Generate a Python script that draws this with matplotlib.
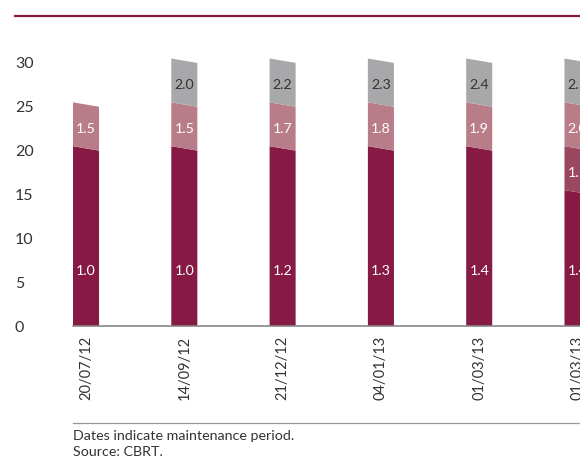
import matplotlib.pyplot as plt
from matplotlib.lines import Line2D

# reserve option tranches per maintenance period
dates = ['20/07/12', '14/09/12', '21/12/12', '04/01/13', '01/03/13', '01/03/13']
seg_base = [20, 20, 20, 20, 20, 15]   # first tranche
seg_mid = [0, 0, 0, 0, 0, 5]          # extra tranche (last period only)
seg_pink = [5, 5, 5, 5, 5, 5]
seg_gray = [0, 5, 5, 5, 5, 5]
lab_base = ['1.0', '1.0', '1.2', '1.3', '1.4', '1.4']
lab_mid = ['', '', '', '', '', '1.5']
lab_pink = ['1.5', '1.5', '1.7', '1.8', '1.9', '2.0']
lab_gray = ['', '2.0', '2.2', '2.3', '2.4', '2.5']

c_base = '#861a45'
c_mid = '#9c4760'
c_pink = '#b97d89'
c_gray = '#a8a8ab'

plt.rcParams['font.family'] = ['Lato', 'DejaVu Sans']

W, H = 580, 468
fig = plt.figure(figsize=(W / 100, H / 100), dpi=100)
ymax = 31
y0_px, px_per_unit = 326, 8.77
ax = fig.add_axes([73 / W, 1 - y0_px / H, 1 - 73 / W, ymax * px_per_unit / H])

bw = 0.265
slant = 0.5


def seg(i, a, b, color, label, label_y, tcolor):
    if b <= a:
        return
    x0, x1 = i - bw / 2, i + bw / 2
    sa = slant if a > 0 else 0
    ax.fill([x0, x1, x1, x0], [a + sa, a, b, b + slant], color=color, lw=0, clip_on=False)
    if label:
        ax.text(i, label_y, label, ha='center', va='center', color=tcolor, fontsize=10.2)


for i in range(len(dates)):
    b = 0
    seg(i, b, b + seg_base[i], c_base, lab_base[i], 6.3, 'white')
    b += seg_base[i]
    seg(i, b, b + seg_mid[i], c_mid, lab_mid[i], b + seg_mid[i] / 2, 'white')
    b += seg_mid[i]
    seg(i, b, b + seg_pink[i], c_pink, lab_pink[i], b + seg_pink[i] / 2, 'white')
    b += seg_pink[i]
    seg(i, b, b + seg_gray[i], c_gray, lab_gray[i], b + seg_gray[i] / 2, '#333333')

ax.set_xlim(-bw / 2, (W - 86.5) / 98.2)
ax.set_ylim(0, ymax)
ax.set_yticks([0, 5, 10, 15, 20, 25, 30])
ax.set_xticks(range(len(dates)))
ax.set_xticklabels(dates, rotation=90, fontsize=10.5, color='#333333')
ax.tick_params(axis='x', length=0, pad=7)
ax.tick_params(axis='y', length=0, pad=41.8, labelsize=11.5, labelcolor='#333333')
for t in ax.get_yticklabels():
    t.set_horizontalalignment('left')
for s in ['top', 'right', 'left']:
    ax.spines[s].set_visible(False)
ax.spines['bottom'].set_color('#888888')
ax.spines['bottom'].set_linewidth(1.2)

# top rule and footer rule
fig.add_artist(Line2D([15 / W, 1], [1 - 16 / H] * 2, color=c_base, lw=1.6))
fig.add_artist(Line2D([73 / W, 1], [1 - 423 / H] * 2, color='#999999', lw=0.9))
fig.text(73 / W, 1 - 436 / H, 'Dates indicate maintenance period.', fontsize=10.3,
         color='#333333', va='center')
fig.text(73 / W, 1 - 452 / H, 'Source: CBRT.', fontsize=10.3, color='#333333', va='center')

fig.savefig('out.png', dpi=100)
